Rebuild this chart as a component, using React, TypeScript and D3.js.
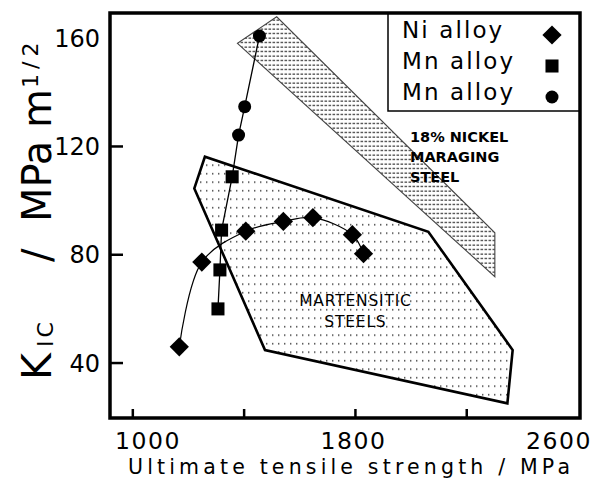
import React from "react";
import * as d3 from "d3";

const W = 606;
const H = 489;

// ---- data ----
const niStrength = [1167, 1248, 1406, 1541, 1647, 1789, 1829];
const niToughness = [46.0, 77.3, 88.7, 92.3, 93.7, 87.4, 80.4];
const mnSqStrength = [1306, 1313, 1319, 1357];
const mnSqToughness = [60.0, 74.4, 89.1, 108.8];
const mnCircStrength = [1380, 1402, 1455];
const mnCircToughness = [124.2, 134.7, 160.8];
const martStrength = [1259, 1221, 1475, 2346, 2365, 2062];
const martToughness = [116.2, 104.5, 44.8, 25.1, 44.8, 88.5];
const marStrength = [1517, 1376, 2301, 2301];
const marToughness = [167.9, 158.1, 71.9, 88.1];
const xTicks = [1000, 1400, 1800, 2200];
const xTickLabels = [1000, 1800, 2600];
const yTicks = [40, 80, 120];
const yTickLabels = [40, 80, 120, 160];
const legendLabels = ["Ni alloy", "Mn alloy", "Mn alloy"];
const legendSymbols = ["diamond", "square", "circle"];
const maragingLabel = ["18% NICKEL", "MARAGING", "STEEL"];
const maragingLabelAt = [1996, 121.7];
const martLabel = ["MARTENSITIC", "STEELS"];
const martLabelAt = [1800, 61.1];
const xDomain = [918, 2607];
const yDomain = [19.7, 169.3];

const FONT = "'DejaVu Sans', Verdana, sans-serif";

export default function App() {
  const left = 110, right = 580, top = 13, bottom = 418;
  const x = d3.scaleLinear().domain(xDomain).range([left, right]);
  const y = d3.scaleLinear().domain(yDomain).range([bottom, top]);
  const xLab = d3.scaleLinear().domain([1000, 2600]).range([148, 559]);

  const ni = niStrength.map((s, i) => [x(s), y(niToughness[i])] as [number, number]);
  const sq = mnSqStrength.map((s, i) => [x(s), y(mnSqToughness[i])] as [number, number]);
  const ci = mnCircStrength.map((s, i) => [x(s), y(mnCircToughness[i])] as [number, number]);
  const mart = martStrength.map((s, i) => [x(s), y(martToughness[i])] as [number, number]);
  const mar = marStrength.map((s, i) => [x(s), y(marToughness[i])] as [number, number]);

  const curve = d3.line().curve(d3.curveCatmullRom.alpha(0.5));
  const straight = d3.line();
  const poly = (pts: [number, number][]) => straight(pts) + "Z";

  const diamond = d3.symbol(d3.symbolSquare, 185)();
  const square = d3.symbol(d3.symbolSquare, 170)();

  const marker = (kind: string, cx: number, cy: number, key: any) => {
    if (kind === "diamond")
      return <path key={key} d={diamond!} transform={`translate(${cx},${cy}) rotate(45)`} fill="#000" />;
    if (kind === "square")
      return <path key={key} d={square!} transform={`translate(${cx},${cy})`} fill="#000" />;
    return <circle key={key} cx={cx} cy={cy} r={6.5} fill="#000" />;
  };

  const lx = 388, ly = 13, lw = right - 388, lh = 98;

  return (
    <svg width={W} height={H} style={{ position: "absolute", left: 0, top: 0, background: "#fff" }}>
      <defs>
        <pattern id="dots" patternUnits="userSpaceOnUse" width={6} height={8.5}>
          <rect x={2} y={3} width={1.4} height={1.4} fill="#333" />
        </pattern>
        <pattern id="dash" patternUnits="userSpaceOnUse" width={4} height={4.5}>
          <rect x={0.5} y={1.5} width={2.6} height={1.2} fill="#333" />
        </pattern>
      </defs>
      <rect x={0} y={0} width={W} height={H} fill="#fff" />

      {/* regions */}
      <path d={poly(mar)} fill="url(#dash)" stroke="#444" strokeWidth={1.1} />
      <path d={poly(mart)} fill="url(#dots)" stroke="#000" strokeWidth={2.6} strokeLinejoin="miter" />

      {/* annotations */}
      {maragingLabel.map((t, i) => (
        <text key={t} x={x(maragingLabelAt[0])} y={y(maragingLabelAt[1]) + i * 20}
          fontFamily={FONT} fontSize={14.5} fontWeight="bold" fill="#000">{t}</text>
      ))}
      {martLabel.map((t, i) => (
        <text key={t} x={x(martLabelAt[0])} y={y(martLabelAt[1]) + i * 21} textAnchor="middle"
          fontFamily={FONT} fontSize={15.5} letterSpacing={0.8} fill="#000">{t}</text>
      ))}

      {/* lines */}
      <path d={curve(ni)!} fill="none" stroke="#000" strokeWidth={1.2} />
      <path d={straight([...sq, ...ci])!} fill="none" stroke="#000" strokeWidth={1.3} />

      {/* markers */}
      {ni.map((p, i) => marker("diamond", p[0], p[1], "n" + i))}
      {sq.map((p, i) => marker("square", p[0], p[1], "s" + i))}
      {ci.map((p, i) => marker("circle", p[0], p[1], "c" + i))}

      {/* legend */}
      <rect x={lx} y={ly} width={lw} height={lh} fill="#fff" stroke="#000" strokeWidth={1.5} />
      {legendLabels.map((t, i) => (
        <g key={i}>
          <text x={402} y={37.5 + i * 31.3} fontFamily={FONT} fontSize={23} letterSpacing={2.1} fill="#000">{t}</text>
          {marker(legendSymbols[i], 552, 35 + i * 31, "l" + i)}
        </g>
      ))}

      {/* frame */}
      <rect x={left} y={top} width={right - left} height={bottom - top} fill="none" stroke="#000" strokeWidth={3.5} />
      {yTicks.map((t) => (
        <line key={t} x1={left} x2={left + 13} y1={y(t)} y2={y(t)} stroke="#000" strokeWidth={2.5} />
      ))}
      {xTicks.map((t) => (
        <line key={t} x1={x(t)} x2={x(t)} y1={bottom} y2={bottom - 9} stroke="#000" strokeWidth={2.5} />
      ))}

      {/* tick labels */}
      {yTickLabels.map((t) => (
        <text key={t} x={100} y={Math.max(y(t), top + 7) + 8.7} textAnchor="end"
          fontFamily={FONT} fontSize={24} fill="#000">{t}</text>
      ))}
      {xTickLabels.map((t) => (
        <text key={t} x={xLab(t)} y={449} textAnchor="middle"
          fontFamily={FONT} fontSize={23.5} letterSpacing={1.5} fill="#000">{t}</text>
      ))}

      {/* axis titles */}
      <text x={349} y={474} textAnchor="middle" fontFamily={FONT} fontSize={20.5}
        textLength={442} lengthAdjust="spacing" fill="#000">Ultimate tensile strength / MPa</text>

      <g transform="translate(51,0) rotate(-90)" fontFamily={FONT} fill="#000">
        <text x={-380} y={0} fontSize={41}>K</text>
        <text x={-347} y={2} fontSize={22} letterSpacing={3}>IC</text>
        <text x={-262} y={0} fontSize={40}>/</text>
        <text x={-222} y={0} fontSize={40}>MPa</text>
        <text x={-128} y={0} fontSize={40}>m</text>
        <text x={-88} y={-13} fontSize={22} letterSpacing={5}>1/2</text>
      </g>
    </svg>
  );
}
